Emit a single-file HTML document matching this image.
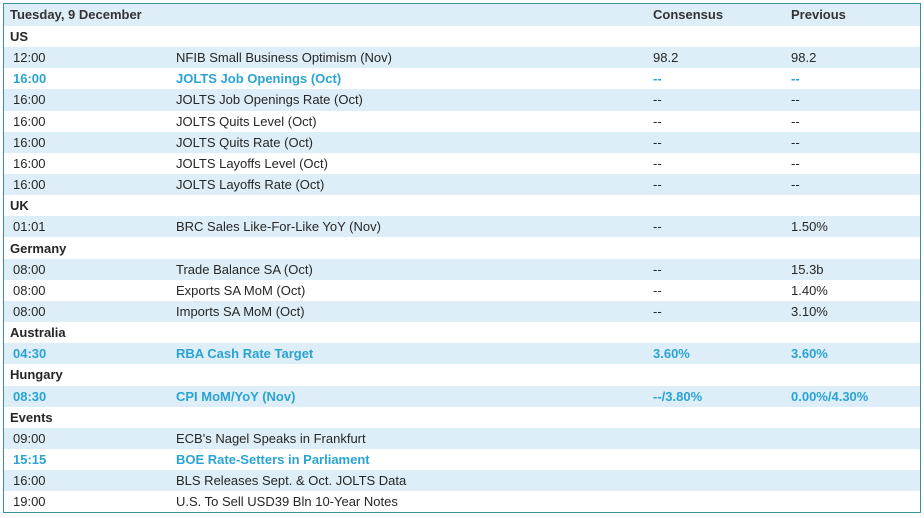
<!DOCTYPE html>
<html><head><meta charset="utf-8"><style>
body{margin:0;width:924px;height:518px;background:#fff;font-family:"Liberation Sans",sans-serif;font-size:13px;color:#262626;position:relative;overflow:hidden}
#box{position:absolute;left:3px;top:3px;width:916px;height:508px;border:1px solid #3a8f9c;box-sizing:content-box}
.r{position:absolute;left:0;width:916px;height:21.15px;line-height:21px;white-space:nowrap}
.b{background:#ddeef8}
.r span{position:absolute}
.t{left:9px}.e{left:172px}.c{left:649px}.p{left:787px}
.s{font-weight:bold;left:6px}
.h{font-weight:bold;color:#2aa3d3}
.hd{font-weight:bold;color:#333}
</style></head><body><div id="box">
<div class="r b hd" style="top:0;height:22px"><span class="s">Tuesday, 9 December</span><span class="c">Consensus</span><span class="p">Previous</span></div>
<div class="r" style="top:22px"><span class="s">US</span></div>
<div class="r b" style="top:43.15px"><span class="t">12:00</span><span class="e">NFIB Small Business Optimism (Nov)</span><span class="c">98.2</span><span class="p">98.2</span></div>
<div class="r h" style="top:64.3px"><span class="t">16:00</span><span class="e">JOLTS Job Openings (Oct)</span><span class="c">--</span><span class="p">--</span></div>
<div class="r b" style="top:85.45px"><span class="t">16:00</span><span class="e">JOLTS Job Openings Rate (Oct)</span><span class="c">--</span><span class="p">--</span></div>
<div class="r" style="top:106.6px"><span class="t">16:00</span><span class="e">JOLTS Quits Level (Oct)</span><span class="c">--</span><span class="p">--</span></div>
<div class="r b" style="top:127.75px"><span class="t">16:00</span><span class="e">JOLTS Quits Rate (Oct)</span><span class="c">--</span><span class="p">--</span></div>
<div class="r" style="top:148.9px"><span class="t">16:00</span><span class="e">JOLTS Layoffs Level (Oct)</span><span class="c">--</span><span class="p">--</span></div>
<div class="r b" style="top:170.05px"><span class="t">16:00</span><span class="e">JOLTS Layoffs Rate (Oct)</span><span class="c">--</span><span class="p">--</span></div>
<div class="r" style="top:191.2px"><span class="s">UK</span></div>
<div class="r b" style="top:212.35px"><span class="t">01:01</span><span class="e">BRC Sales Like-For-Like YoY (Nov)</span><span class="c">--</span><span class="p">1.50%</span></div>
<div class="r" style="top:233.5px"><span class="s">Germany</span></div>
<div class="r b" style="top:254.65px"><span class="t">08:00</span><span class="e">Trade Balance SA (Oct)</span><span class="c">--</span><span class="p">15.3b</span></div>
<div class="r" style="top:275.8px"><span class="t">08:00</span><span class="e">Exports SA MoM (Oct)</span><span class="c">--</span><span class="p">1.40%</span></div>
<div class="r b" style="top:296.95px"><span class="t">08:00</span><span class="e">Imports SA MoM (Oct)</span><span class="c">--</span><span class="p">3.10%</span></div>
<div class="r" style="top:318.1px"><span class="s">Australia</span></div>
<div class="r b h" style="top:339.25px"><span class="t">04:30</span><span class="e">RBA Cash Rate Target</span><span class="c">3.60%</span><span class="p">3.60%</span></div>
<div class="r" style="top:360.4px"><span class="s">Hungary</span></div>
<div class="r b h" style="top:381.55px"><span class="t">08:30</span><span class="e">CPI MoM/YoY (Nov)</span><span class="c">--/3.80%</span><span class="p">0.00%/4.30%</span></div>
<div class="r" style="top:402.7px"><span class="s">Events</span></div>
<div class="r b" style="top:423.85px"><span class="t">09:00</span><span class="e">ECB's Nagel Speaks in Frankfurt</span></div>
<div class="r h" style="top:445px"><span class="t">15:15</span><span class="e">BOE Rate-Setters in Parliament</span></div>
<div class="r b" style="top:466.15px"><span class="t">16:00</span><span class="e">BLS Releases Sept. &amp; Oct. JOLTS Data</span></div>
<div class="r" style="top:487.3px"><span class="t">19:00</span><span class="e">U.S. To Sell USD39 Bln 10-Year Notes</span></div>
</div></body></html>
